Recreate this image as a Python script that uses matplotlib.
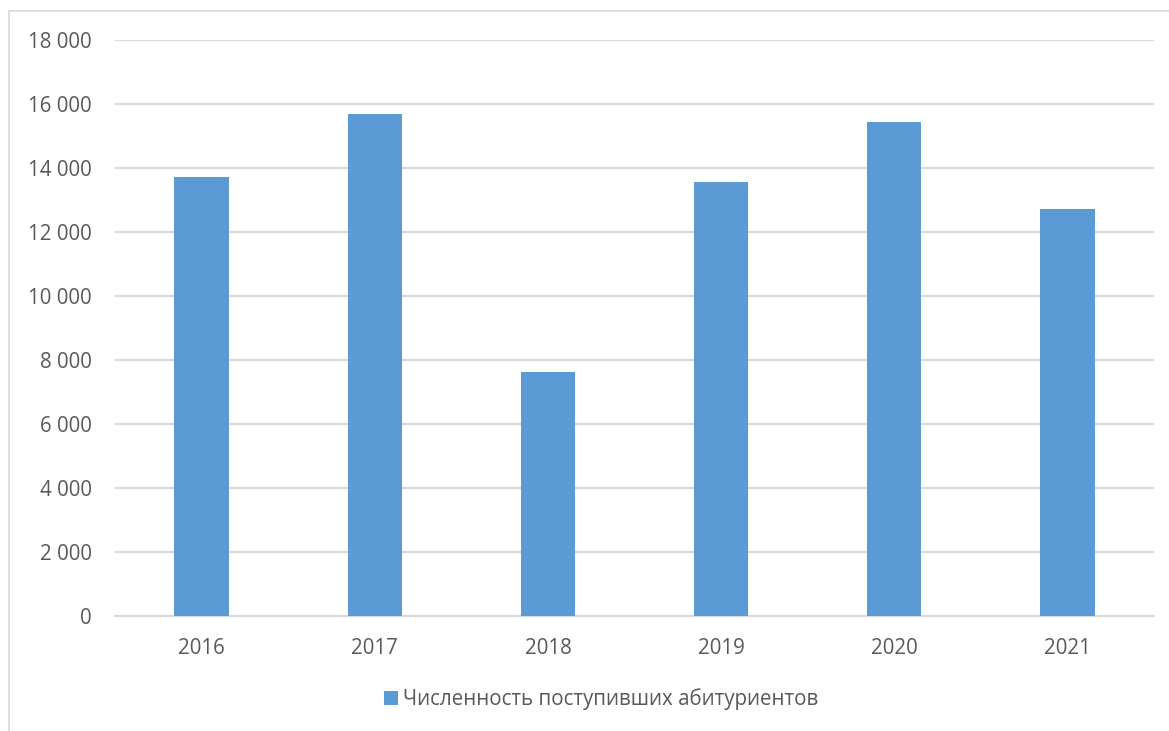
import matplotlib.pyplot as plt
import matplotlib.patches as patches
from matplotlib.ticker import FuncFormatter
import numpy as np

plt.rcParams['font.family'] = ['Open Sans', 'DejaVu Sans']

years = ['2016', '2017', '2018', '2019', '2020', '2021']
admitted = [13720, 15680, 7610, 13560, 15450, 12720]
series_label = 'Численность поступивших абитуриентов'

bar_color = '#5b9bd5'
text_color = '#595959'
grid_color = '#d9d9d9'

W, H = 1169, 731
fig = plt.figure(figsize=(W / 100, H / 100), dpi=100)

# outer chart frame (runs off right/bottom edges)
fig.patches.append(patches.Rectangle((9 / W, -0.1), 1.2, (H - 11) / H + 0.1,
                                     transform=fig.transFigure, fill=False,
                                     edgecolor=grid_color, linewidth=1.2))

ax = fig.add_axes([115 / W, (H - 616) / H, (1154 - 115) / W, (616 - 40) / H])
x = np.arange(len(years))
ax.bar(x, admitted, width=0.313, color=bar_color, zorder=3, label=series_label)

ax.set_xlim(-0.5, len(years) - 0.5)
ax.set_ylim(0, 18000)
ax.set_yticks(np.arange(0, 18001, 2000))
ax.yaxis.set_major_formatter(FuncFormatter(lambda v, p: f'{int(v):,}'.replace(',', ' ')))
ax.set_xticks(x)
ax.set_xticklabels(years)

ax.grid(axis='y', color=grid_color, linewidth=1.5, zorder=0)
for s in ['top', 'right', 'left']:
    ax.spines[s].set_visible(False)
ax.spines['bottom'].set_color(grid_color)
ax.spines['bottom'].set_linewidth(1.5)
ax.tick_params(axis='both', length=0, labelsize=14.8, colors=text_color)
ax.tick_params(axis='y', pad=16.5)
ax.tick_params(axis='x', pad=16)

leg = fig.legend(loc='center', bbox_to_anchor=(601 / W, (H - 699) / H), frameon=False,
                 fontsize=14.8, handlelength=0.7, handleheight=0.7, handletextpad=0.25)
for t in leg.get_texts():
    t.set_color(text_color)

fig.savefig('out.png', dpi=100)
